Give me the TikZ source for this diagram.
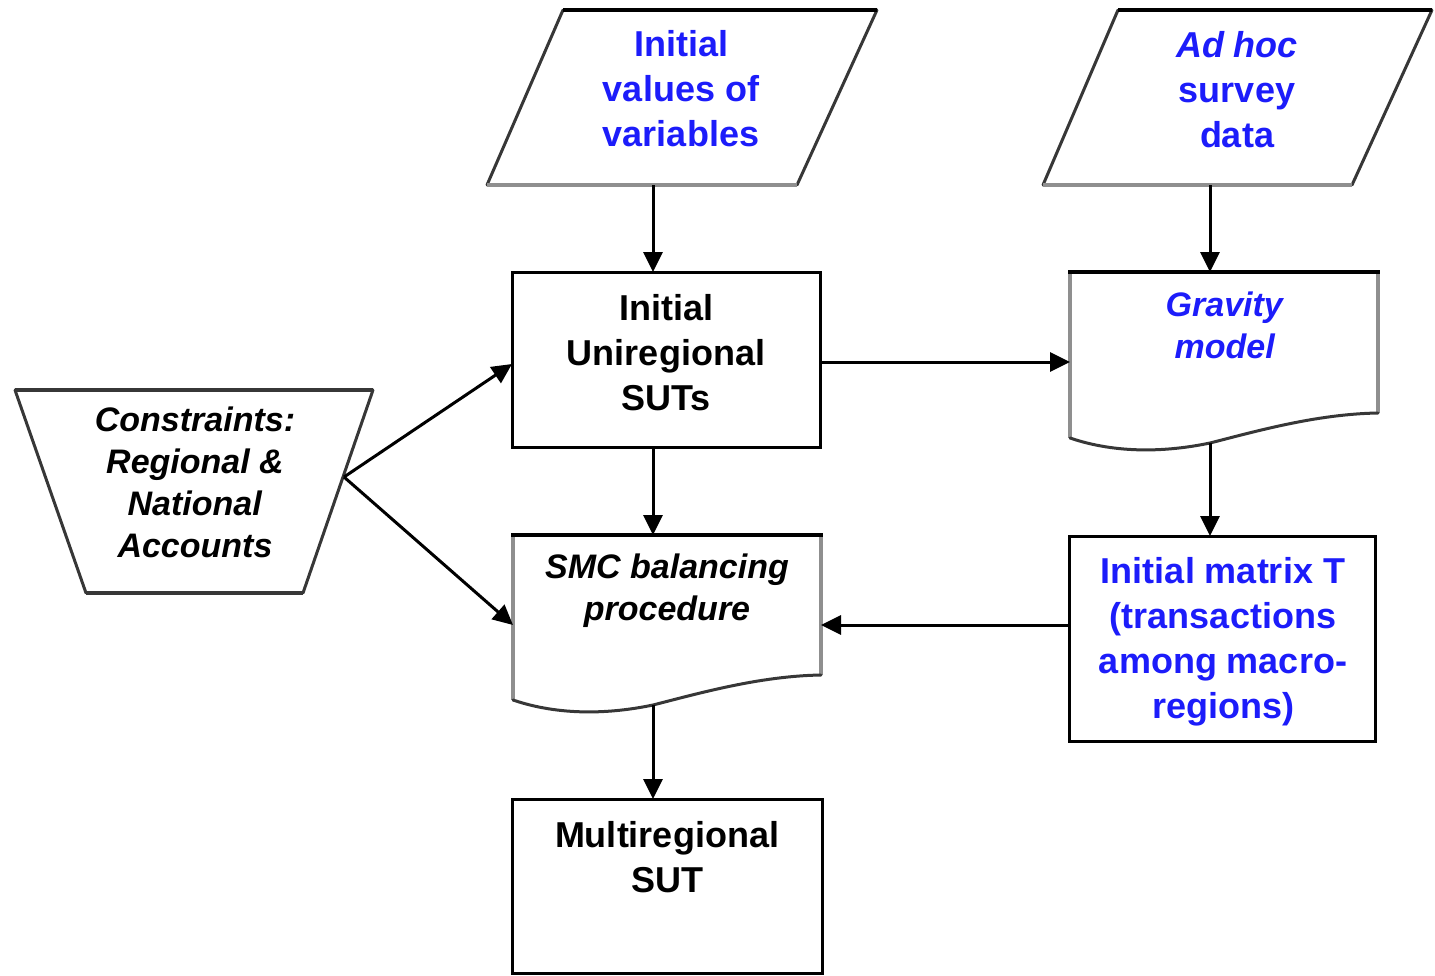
\documentclass[tikz,border=0pt]{standalone}
\usepackage{fontspec}
\setmainfont{Liberation Sans}
\usetikzlibrary{arrows.meta}
\definecolor{txtblue}{RGB}{28,28,250}
\definecolor{edgegray}{RGB}{143,143,143}
\definecolor{edgedark}{RGB}{55,55,55}
\begin{document}
\begin{tikzpicture}[x=1pt,y=-1pt,
  conn/.style={line width=3pt,-{Triangle[length=20pt,width=19pt]}},
  txt/.style={align=center,inner sep=0pt,font=\fontsize{36}{45}\selectfont\bfseries},
  tight/.style={font=\fontsize{34}{42}\selectfont\bfseries},
  bluetxt/.style={txtblue},
  rectbox/.style={draw=black,line width=3pt,inner sep=0pt},
  edgetop/.style={line width=3.5pt,black},
  edgeside/.style={line width=4pt,edgegray},
  edgeslant/.style={line width=3pt,edgedark,line cap=round}]
\useasboundingbox (0,0) rectangle (1435,975);

% ---- parallelogram: Initial values of variables
\draw[edgeslant] (563,10) -- (487,185);
\draw[edgeslant] (877,10) -- (797,185);
\draw[edgeside] (487,185) -- (797,185);
\draw[edgetop] (563,10) -- (877,10);
\coordinate (p1out) at (653,185);
\node[txt,bluetxt] (p1t) at (681,89) {Initial\\values of\\variables};

% ---- parallelogram: Ad hoc survey data
\draw[edgeslant] (1118,10) -- (1043,185);
\draw[edgeslant] (1432,10) -- (1352,185);
\draw[edgeside] (1043,185) -- (1352,185);
\draw[edgetop] (1118,10) -- (1432,10);
\coordinate (p2out) at (1210,185);
\node[txt,bluetxt] (p2t) at (1237,89.5) {\textit{Ad hoc}\\survey\\data};

% ---- trapezoid: Constraints
\draw[edgeslant] (15,390) -- (86,593);
\draw[edgeslant] (373,390) -- (303,593);
\draw[line width=3.5pt,edgedark] (15,390) -- (373,390);
\draw[line width=3.5pt,edgedark] (86,593) -- (303,593);
\coordinate (consout) at (344,477);
\node[txt,tight] (const) at (195,482.5) {\textit{Constraints:}\\\textit{Regional \&}\\\textit{National}\\\textit{Accounts}};

% ---- box: Initial Uniregional SUTs
\node[rectbox,minimum width=308pt,minimum height=175pt] (uni) at (666,359.5) {};
\node[txt] (unit) at (666,352.5) {Initial\\Uniregional\\SUTs};

% ---- document: Gravity model
\draw[edgeside] (1070,272) -- (1070,438);
\draw[edgeside] (1378,272) -- (1378,413);
\draw[edgeslant] (1070,438) .. controls (1117,454) and (1167,452) .. (1210,443)
                 .. controls (1257,431) and (1317,414) .. (1378,413);
\draw[edgetop] (1068,272) -- (1380,272);
\coordinate (gravin) at (1210,272);
\coordinate (gravleft) at (1070,362);
\coordinate (gravout) at (1210,443);
\node[txt,tight,bluetxt] (gravt) at (1225,325.5) {\textit{Gravity}\\\textit{model}};

% ---- document: SMC balancing procedure
\draw[edgeside] (513,535) -- (513,700);
\draw[edgeside] (821,535) -- (821,675);
\draw[edgeslant] (513,700) .. controls (560,716) and (610,714) .. (653,705)
                 .. controls (700,693) and (760,676) .. (821,675);
\draw[edgetop] (511,535) -- (823,535);
\coordinate (smcin) at (653,535);
\coordinate (smcleft) at (513,625);
\coordinate (smcright) at (821,625);
\coordinate (smcout) at (653,705);
\node[txt,tight] (smct) at (667,591) {\textit{SMC balancing}\\\textit{procedure}};

% ---- box: Initial matrix T
\node[rectbox,minimum width=306pt,minimum height=205pt] (mat) at (1222,638.5) {};
\node[txt,bluetxt] (matt) at (1223,642) {Initial matrix T\\(transactions\\among macro-\\regions)};

% ---- box: Multiregional SUT
\node[rectbox,minimum width=310pt,minimum height=174pt] (multi) at (667,886) {};
\node[txt] (multit) at (667,857) {Multiregional\\SUT};

% ---- connectors
\coordinate (uniin) at (653,272);
\coordinate (unileft) at (512,364);
\coordinate (uniright) at (820,362);
\coordinate (uniout) at (653,447);
\coordinate (matin) at (1210,536);
\coordinate (matleft) at (1069,625);
\coordinate (multiin) at (653,799);

\draw[conn] (p1out) -- (uniin);
\draw[conn] (p2out) -- (gravin);
\draw[conn] (uniright) -- (gravleft);
\draw[conn] (uniout) -- (smcin);
\draw[conn] (gravout) -- (matin);
\draw[conn] (matleft) -- (smcright);
\draw[conn] (smcout) -- (multiin);
\draw[conn] (consout) -- (unileft);
\draw[conn] (consout) -- (smcleft);
\end{tikzpicture}
\end{document}
